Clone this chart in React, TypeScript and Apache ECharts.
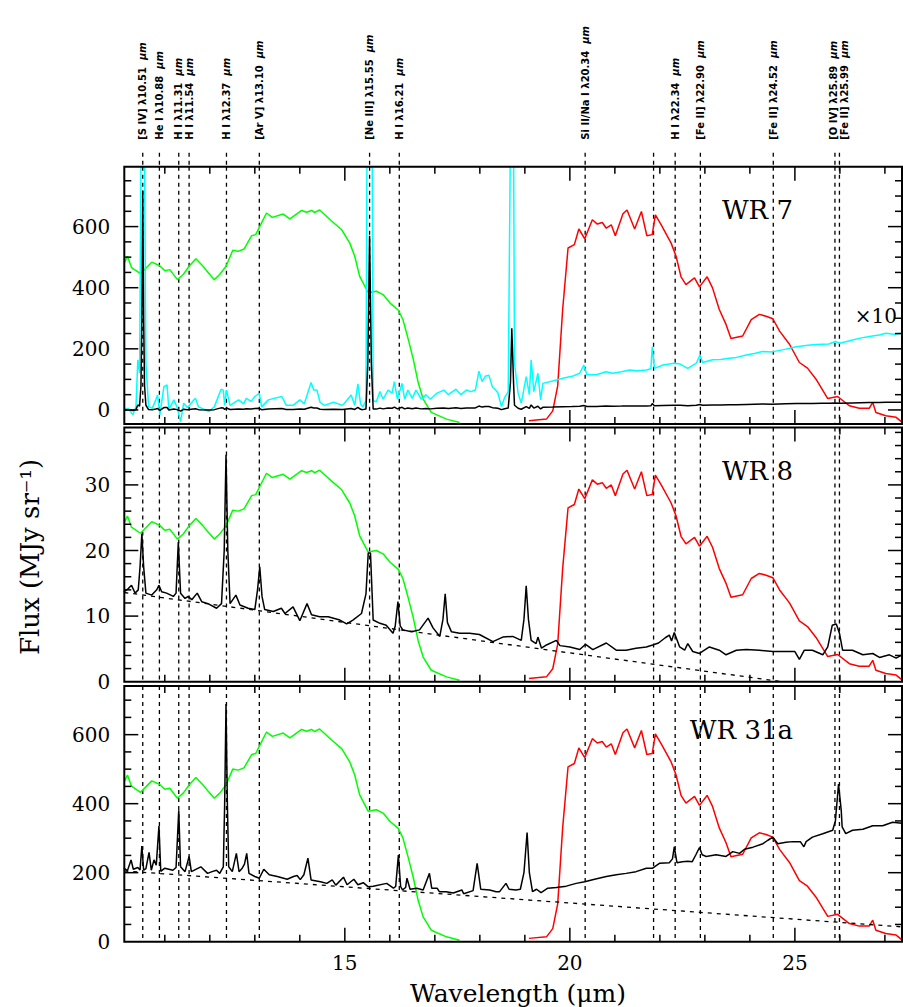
import React, { useEffect, useRef } from 'react';
import * as echarts from 'echarts';

// ---------------- data ----------------
const X_MIN = 10.1;
const X_MAX = 27.38;

const xTickValues = [11, 12, 13, 14, 15, 16, 17, 18, 19, 20, 21, 22, 23, 24, 25, 26, 27];
const xMajorTicks = [15, 20, 25];
const xTickLabels = [15, 20, 25];

const wr7YTicks = [0, 50, 100, 150, 200, 250, 300, 350, 400, 450, 500, 550, 600, 650, 700, 750];
const wr7YMajor = [0, 200, 400, 600];
const wr7YLabels = [0, 200, 400, 600];
const wr8YTicks = [2, 4, 6, 8, 10, 12, 14, 16, 18, 20, 22, 24, 26, 28, 30, 32, 34, 36, 38];
const wr8YMajor = [10, 20, 30];
const wr8YLabels = [0, 10, 20, 30];
const wr31aYTicks = [50, 100, 150, 200, 250, 300, 350, 400, 450, 500, 550, 600, 650, 700];
const wr31aYMajor = [200, 400, 600];
const wr31aYLabels = [0, 200, 400, 600];

const lineWavelengths = [10.51, 10.88, 11.31, 11.54, 12.37, 13.10, 15.55, 16.21, 20.34, 21.86, 22.34, 22.90, 24.52, 25.89, 25.99];
const lineIons = ['[S IV]', 'He I', 'H I', 'H I', 'H I', '[Ar V]', '[Ne III]', 'H I', 'Si II/Na I', '', 'H I', '[Fe II]', '[Fe II]', '[O IV]', '[Fe II]'];

// filter transmission curves (normalised to panel height)
const filterGreen = [[10.10,0.626],[10.17,0.652],[10.26,0.608],[10.46,0.584],[10.71,0.629],[10.88,0.616],[11.00,0.596],[11.11,0.600],[11.28,0.561],[11.41,0.581],[11.54,0.613],[11.69,0.642],[11.85,0.613],[11.97,0.587],[12.10,0.561],[12.22,0.581],[12.36,0.613],[12.51,0.675],[12.63,0.671],[12.76,0.680],[12.93,0.732],[13.02,0.736],[13.11,0.768],[13.26,0.820],[13.39,0.803],[13.63,0.816],[13.78,0.797],[14.04,0.830],[14.15,0.823],[14.26,0.830],[14.33,0.822],[14.44,0.832],[14.70,0.790],[14.93,0.755],[15.11,0.703],[15.22,0.652],[15.33,0.574],[15.52,0.510],[15.70,0.516],[15.85,0.503],[16.00,0.471],[16.19,0.442],[16.29,0.406],[16.41,0.329],[16.52,0.252],[16.63,0.161],[16.74,0.097],[16.92,0.045],[17.26,0.019],[17.55,0.006]];

const filterRed = [[19.09,0.013],[19.48,0.019],[19.62,0.051],[19.73,0.148],[19.84,0.445],[19.96,0.684],[20.10,0.697],[20.20,0.758],[20.33,0.720],[20.50,0.794],[20.61,0.777],[20.72,0.783],[20.81,0.761],[20.92,0.774],[21.01,0.732],[21.18,0.817],[21.27,0.832],[21.44,0.758],[21.59,0.826],[21.71,0.732],[21.83,0.736],[21.90,0.813],[22.03,0.774],[22.25,0.703],[22.36,0.652],[22.47,0.572],[22.58,0.542],[22.77,0.568],[22.88,0.533],[23.05,0.572],[23.17,0.529],[23.32,0.445],[23.47,0.387],[23.58,0.332],[23.84,0.342],[24.03,0.406],[24.21,0.426],[24.36,0.419],[24.51,0.409],[24.66,0.361],[24.88,0.310],[25.10,0.239],[25.28,0.217],[25.47,0.174],[25.73,0.099],[25.95,0.107],[26.21,0.071],[26.43,0.061],[26.65,0.061],[26.73,0.084],[26.80,0.045],[27.02,0.032],[27.25,0.026],[27.38,0.007]];

const wr7 = [[10.10,0.2],[10.19,0.5],[10.29,-1.6],[10.36,1.1],[10.40,16.4],[10.44,12.1],[10.47,80],[10.49,300],[10.51,718],[10.53,300],[10.55,80],[10.58,15.3],[10.64,1.1],[10.72,0.5],[10.80,3.3],[10.84,4.9],[10.89,-1.6],[10.98,7.6],[11.05,8.2],[11.09,0],[11.20,3.3],[11.27,1],[11.35,-3.8],[11.42,2.2],[11.50,0.8],[11.68,3.8],[11.75,1],[11.98,-0.5],[12.10,1],[12.25,6.8],[12.30,6.5],[12.33,1.5],[12.37,6.5],[12.45,1.5],[12.64,3.3],[12.75,2],[12.81,3.8],[12.92,2.8],[13.00,4.4],[13.10,5.4],[13.15,1],[13.30,3.3],[13.60,4.4],[13.70,1.5],[13.85,1.5],[14.00,3.3],[14.10,2],[14.25,9],[14.31,6.5],[14.38,6.5],[14.45,2.5],[14.55,1.5],[14.75,2.5],[14.95,1.5],[15.14,4.9],[15.22,1.5],[15.29,8.5],[15.35,2],[15.40,1],[15.47,3],[15.51,150],[15.55,570],[15.59,150],[15.63,3],[15.70,2.7],[15.78,6],[15.85,3.5],[15.96,6.5],[16.05,5.5],[16.10,9.3],[16.17,3.5],[16.27,8.7],[16.33,3.5],[16.40,6.5],[16.50,3.8],[16.58,6.5],[16.70,3.5],[16.80,5],[16.90,3.5],[17.05,5.5],[17.20,6.5],[17.30,5],[17.47,6.8],[17.58,5],[17.70,6.5],[17.80,6],[17.90,6.5],[17.98,12.7],[18.05,9.3],[18.12,11],[18.20,11.4],[18.28,7.5],[18.35,6.5],[18.40,5.6],[18.48,1.1],[18.55,4],[18.63,6],[18.68,90],[18.71,267],[18.75,85],[18.77,15.3],[18.85,5.5],[18.92,2.2],[19.03,10.9],[19.10,5],[19.14,16.4],[19.20,6],[19.29,12],[19.35,3.3],[19.40,8.7],[19.62,9.5],[19.84,10.4],[20.05,11],[20.22,12],[20.31,14.7],[20.38,11.5],[20.59,11.5],[20.80,12.5],[20.95,12],[21.15,12.5],[21.33,13.1],[21.50,12.8],[21.70,13.1],[21.80,13.5],[21.83,20.7],[21.88,13.6],[22.07,14.7],[22.32,15.3],[22.45,15],[22.62,13.6],[22.81,15.3],[22.89,18],[22.95,15.5],[23.17,16.4],[23.35,16.5],[23.54,16.9],[23.70,17.2],[23.92,18],[24.10,18.5],[24.28,19.1],[24.50,19],[24.80,19.9],[25.03,20.7],[25.20,21],[25.39,21.3],[25.60,21.5],[25.76,21.6],[25.90,22.4],[26.00,21.8],[26.28,22.9],[26.45,23.5],[26.65,24],[26.87,24.5],[27.02,25.1],[27.20,24.8],[27.38,25.1]];
const WR7_SCALE = 10; // the cyan trace is WR 7 multiplied by 10

const wr8 = [[10.09,13.7],[10.19,14.2],[10.26,14.7],[10.34,13.5],[10.41,14.0],[10.45,17.5],[10.49,22.6],[10.53,17.5],[10.58,13.5],[10.71,13.2],[10.82,14.0],[10.87,14.7],[10.93,13.7],[11.04,13.5],[11.19,13.0],[11.25,13.5],[11.30,21.3],[11.35,13.5],[11.45,12.7],[11.52,13.0],[11.60,12.5],[11.72,13.5],[11.82,12.2],[11.96,11.9],[12.15,11.2],[12.26,11.9],[12.32,20],[12.36,34.6],[12.40,20],[12.45,11.9],[12.58,13.2],[12.67,11.7],[12.85,11.2],[13.00,11.0],[13.06,14],[13.11,17.5],[13.16,13],[13.22,11.0],[13.41,10.7],[13.59,11.2],[13.67,10.4],[13.85,11.4],[14.00,9.3],[14.16,11.9],[14.26,10.2],[14.44,9.9],[14.63,9.9],[14.89,9.4],[15.04,8.8],[15.18,9.4],[15.37,10.4],[15.47,13.4],[15.52,19.6],[15.57,19.6],[15.63,9.4],[15.78,8.9],[15.92,8.6],[16.07,7.4],[16.12,8.5],[16.18,12.2],[16.23,8.5],[16.29,7.9],[16.48,7.6],[16.66,7.9],[16.85,9.7],[16.96,8.2],[17.11,6.9],[17.18,9.5],[17.23,13.4],[17.28,9],[17.37,7.6],[17.55,7.4],[17.77,7.4],[17.99,7.2],[18.29,6.1],[18.51,6.8],[18.73,6.9],[18.92,6.3],[18.98,9.5],[19.03,14.6],[19.08,9.5],[19.14,6.3],[19.25,5.8],[19.29,6.8],[19.37,5.1],[19.48,5.6],[19.70,6.3],[19.78,5.5],[20.00,5.3],[20.22,4.9],[20.35,5.7],[20.51,4.9],[20.81,5.9],[21.03,4.8],[21.25,4.8],[21.47,5.1],[21.70,5.3],[21.84,5.6],[21.97,5.9],[22.12,6.7],[22.21,7.1],[22.26,6.2],[22.32,7.5],[22.44,5.3],[22.55,4.8],[22.62,5.8],[22.73,4.6],[22.88,4.3],[23.10,5.3],[23.32,4.8],[23.47,4.1],[23.70,4.8],[23.92,4.9],[24.21,4.8],[24.51,4.6],[24.80,4.6],[25.00,4.6],[25.10,3.4],[25.21,4.8],[25.39,4.8],[25.62,4.1],[25.73,5.3],[25.83,8.6],[25.92,8.8],[25.99,7.4],[26.06,4.8],[26.28,4.8],[26.51,4.1],[26.73,4.3],[26.88,3.7],[27.10,4.1],[27.25,3.6],[27.38,4.1]];
const wr8Continuum = [[10.1, 13.6], [24.72, 0]];

const wr31a = [[10.09,213],[10.17,206],[10.25,237],[10.30,210],[10.40,215],[10.45,208],[10.49,277],[10.53,207],[10.58,212],[10.65,259],[10.70,207],[10.76,237],[10.81,222],[10.87,335],[10.91,204],[11.00,213],[11.18,207],[11.25,215],[11.31,381],[11.35,217],[11.45,203],[11.54,247],[11.59,203],[11.80,217],[11.95,198],[12.05,203],[12.15,207],[12.22,198],[12.30,217],[12.33,400],[12.36,689],[12.39,400],[12.42,217],[12.50,203],[12.59,256],[12.65,203],[12.72,213],[12.77,225],[12.82,256],[12.87,198],[13.00,189],[13.10,184],[13.20,210],[13.32,194],[13.50,189],[13.72,181],[13.86,189],[13.94,192],[14.01,180],[14.09,194],[14.18,242],[14.25,179],[14.46,174],[14.60,169],[14.72,179],[14.80,164],[14.97,187],[15.05,165],[15.20,181],[15.29,165],[15.41,171],[15.52,159],[15.63,161],[15.93,169],[16.08,155],[16.13,160],[16.19,251],[16.24,160],[16.28,150],[16.35,157],[16.38,184],[16.45,152],[16.60,155],[16.74,150],[16.88,198],[16.93,155],[17.05,155],[17.10,145],[17.25,145],[17.41,141],[17.60,150],[17.64,139],[17.85,148],[17.94,227],[18.02,152],[18.22,150],[18.36,145],[18.44,145],[18.58,169],[18.65,152],[18.80,150],[18.90,152],[18.98,200],[19.05,316],[19.10,200],[19.17,145],[19.26,152],[19.36,142],[19.51,155],[19.70,157],[19.92,161],[20.14,169],[20.33,174],[20.55,181],[20.81,189],[21.03,194],[21.25,198],[21.47,203],[21.70,213],[21.84,213],[21.99,227],[22.21,229],[22.28,240],[22.32,275],[22.38,229],[22.50,232],[22.62,233],[22.72,232],[22.80,252],[22.88,273],[22.94,252],[23.03,247],[23.25,252],[23.47,247],[23.62,261],[23.77,256],[23.88,268],[24.07,274],[24.29,284],[24.40,294],[24.51,303],[24.62,284],[24.80,288],[24.95,290],[25.12,290],[25.20,275],[25.25,290],[25.39,303],[25.62,313],[25.84,323],[25.90,350],[25.97,457],[26.03,380],[26.05,333],[26.13,313],[26.28,323],[26.51,326],[26.73,336],[26.95,336],[27.17,346],[27.38,343]];
const wr31aContinuum = [[10.1, 205], [27.38, 43]];

// ---------------- layout / style ----------------
const SERIF = '"DejaVu Serif", serif';
const SANS = '"DejaVu Sans", "Liberation Sans", sans-serif';
const labelNudge: Record<string, number> = { '25.89': -1, '25.99': 5 };

const panels = [
  { top: 166.7, height: 257.3, yMin: -46, yMax: 796, ticks: wr7YTicks, majors: wr7YMajor, labels: wr7YLabels, name: 'WR 7' },
  { top: 427.5, height: 254.2, yMin: 0, yMax: 38.75, ticks: wr8YTicks, majors: wr8YMajor, labels: wr8YLabels, name: 'WR 8' },
  { top: 686, height: 255.7, yMin: 0, yMax: 741, ticks: wr31aYTicks, majors: wr31aYMajor, labels: wr31aYLabels, name: 'WR 31a' },
];

const TICK_STYLE = { stroke: '#000', lineWidth: 1.5 };

function xTickSeries(gi: number, yMin: number, showLabels: boolean) {
  return {
    type: 'custom', xAxisIndex: gi, yAxisIndex: gi * 2, silent: true, z: 6,
    data: xTickValues.map((v) => [v, yMin]),
    renderItem: (params: any, api: any) => {
      const cs = params.coordSys;
      const v = api.value(0);
      const p = api.coord([v, api.value(1)]);
      const len = xMajorTicks.includes(v) ? 14 : 7;
      const b = cs.y + cs.height;
      const children: any[] = [
        { type: 'line', shape: { x1: p[0], y1: b, x2: p[0], y2: b - len }, style: TICK_STYLE },
        { type: 'line', shape: { x1: p[0], y1: cs.y, x2: p[0], y2: cs.y + len }, style: TICK_STYLE },
      ];
      if (showLabels && xTickLabels.includes(v)) {
        children.push({ type: 'text', x: p[0], y: b + 21, style: { text: String(v), fill: '#000', fontSize: 20, fontFamily: SERIF, align: 'center', verticalAlign: 'middle' } });
      }
      return { type: 'group', children };
    },
  };
}

function yTickSeries(gi: number, ticks: number[], majors: number[]) {
  return {
    type: 'custom', xAxisIndex: gi, yAxisIndex: gi * 2, silent: true, z: 6,
    data: ticks.map((v) => [X_MIN, v]),
    renderItem: (params: any, api: any) => {
      const cs = params.coordSys;
      const v = api.value(1);
      const p = api.coord([api.value(0), v]);
      const len = majors.includes(v) ? 14 : 7;
      const r = cs.x + cs.width;
      return {
        type: 'group',
        children: [
          { type: 'line', shape: { x1: cs.x, y1: p[1], x2: cs.x + len, y2: p[1] }, style: TICK_STYLE },
          { type: 'line', shape: { x1: r, y1: p[1], x2: r - len, y2: p[1] }, style: TICK_STYLE },
        ],
      };
    },
  };
}

function yLabelSeries(gi: number, labels: number[]) {
  return {
    type: 'custom', xAxisIndex: gi, yAxisIndex: gi * 2, silent: true, z: 6,
    data: labels.map((v) => [X_MIN, v]),
    renderItem: (params: any, api: any) => {
      const cs = params.coordSys;
      const p = api.coord([api.value(0), api.value(1)]);
      return { type: 'text', x: cs.x - 14, y: p[1], style: { text: String(api.value(1)), fill: '#000', fontSize: 20, fontFamily: SERIF, align: 'right', verticalAlign: 'middle' } };
    },
  };
}

function idLineSeries(gi: number, withLabels: boolean) {
  return {
    type: 'custom', xAxisIndex: gi, yAxisIndex: gi * 2, silent: true, z: 1,
    data: lineWavelengths.map((v, i) => [v, i]),
    renderItem: (params: any, api: any) => {
      const cs = params.coordSys;
      const v = api.value(0);
      const idx = api.value(1);
      const p = api.coord([v, 0]);
      const dash = { stroke: '#000', lineWidth: 1.3, lineDash: [4, 4] };
      const children: any[] = [
        { type: 'line', shape: { x1: p[0], y1: cs.y, x2: p[0], y2: cs.y + cs.height }, style: dash },
      ];
      if (withLabels) {
        children.push({ type: 'line', shape: { x1: p[0], y1: cs.y - 14, x2: p[0], y2: cs.y }, style: dash });
        const ion = lineIons[idx];
        if (ion) {
          const key = v.toFixed(2);
          const nudge = labelNudge[key] || 0;
          children.push({
            type: 'text', x: p[0] + nudge, y: cs.y - 27, rotation: Math.PI / 2,
            style: {
              text: `{n|${ion} λ${key}  }{u|μm}`,
              align: 'left', verticalAlign: 'middle', fill: '#000',
              rich: {
                n: { fontSize: 10, fontWeight: 'bold', fontFamily: SANS, fill: '#000' },
                u: { fontSize: 10, fontWeight: 'bold', fontStyle: 'italic', fontFamily: SANS, fill: '#000' },
              },
            },
          });
        }
      }
      return { type: 'group', children };
    },
  };
}

function lineSeries(gi: number, yIdx: number, data: number[][], color: string, z: number, dashed = false) {
  return {
    type: 'line', xAxisIndex: gi, yAxisIndex: yIdx, data, z, silent: true,
    showSymbol: false, symbol: 'none', clip: true,
    lineStyle: { color, width: dashed ? 1.3 : 1.5, type: dashed ? [4, 5] : 'solid' },
  };
}

function buildOption() {
  const grid: any[] = [];
  const xAxis: any[] = [];
  const yAxis: any[] = [];
  const series: any[] = [];
  const graphic: any[] = [];

  panels.forEach((pn, gi) => {
    grid.push({ left: 124.3, right: 1, top: pn.top, height: pn.height, show: true, borderColor: '#000', borderWidth: 2, backgroundColor: 'transparent', z: 7 });
    xAxis.push({ type: 'value', gridIndex: gi, min: X_MIN, max: X_MAX, show: false });
    yAxis.push({ type: 'value', gridIndex: gi, min: pn.yMin, max: pn.yMax, show: false });
    yAxis.push({ type: 'value', gridIndex: gi, min: 0, max: 1, show: false });

    series.push(idLineSeries(gi, gi === 0));
    series.push(lineSeries(gi, gi * 2 + 1, filterGreen, '#00ff00', 2));
    series.push(lineSeries(gi, gi * 2 + 1, filterRed, '#ff0000', 2));
    if (gi === 0) {
      series.push(lineSeries(gi, 0, wr7.map(([l, f]) => [l, f * WR7_SCALE]), '#00ffff', 3));
      series.push(lineSeries(gi, 0, wr7, '#000000', 4));
    } else if (gi === 1) {
      series.push(lineSeries(gi, 2, wr8Continuum, '#000000', 3, true));
      series.push(lineSeries(gi, 2, wr8, '#000000', 4));
    } else {
      series.push(lineSeries(gi, 4, wr31aContinuum, '#000000', 3, true));
      series.push(lineSeries(gi, 4, wr31a, '#000000', 4));
    }
    series.push(xTickSeries(gi, pn.yMin, gi === 2));
    series.push(yTickSeries(gi, pn.ticks, pn.majors));
    series.push(yLabelSeries(gi, pn.labels));

    graphic.push({ type: 'text', x: 793, y: pn.top + 43.5, style: { text: pn.name, fill: '#000', fontSize: 26, fontFamily: SERIF, align: 'right', verticalAlign: 'middle' } });
  });

  graphic.push({ type: 'text', x: 897, y: 316, style: { text: '×10', fill: '#000', fontSize: 20, fontFamily: SERIF, align: 'right', verticalAlign: 'middle' } });
  graphic.push({ type: 'text', x: 518, y: 993, style: { text: 'Wavelength (μm)', fill: '#000', fontSize: 25, fontFamily: SERIF, align: 'center', verticalAlign: 'middle' } });
  graphic.push({ type: 'text', x: 30, y: 557, rotation: Math.PI / 2, style: { text: 'Flux (MJy sr⁻¹)', fill: '#000', fontSize: 26, fontFamily: SERIF, align: 'center', verticalAlign: 'middle' } });

  return { animation: false, backgroundColor: '#ffffff', grid, xAxis, yAxis, series, graphic };
}

export default function App() {
  const ref = useRef<HTMLDivElement>(null);
  useEffect(() => {
    document.body.style.margin = '0';
    const chart = echarts.init(ref.current as HTMLDivElement, null, { renderer: 'svg' });
    chart.setOption(buildOption() as any);
    return () => chart.dispose();
  }, []);
  return <div ref={ref} style={{ width: 903, height: 1007 }} />;
}
